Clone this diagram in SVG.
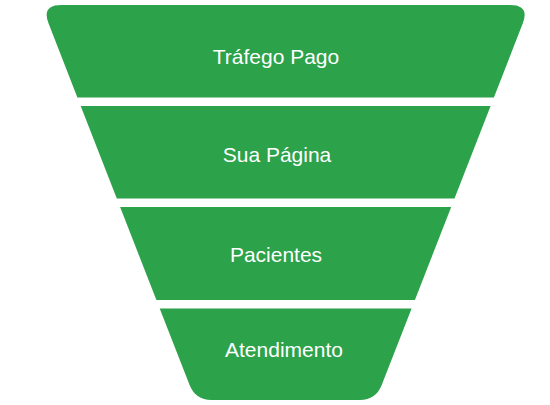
<svg xmlns="http://www.w3.org/2000/svg" width="550" height="405" viewBox="0 0 550 405">
<style>
.band{fill:#2ca24a;}
.lbl{font-family:"Liberation Sans",Arial,sans-serif;font-size:21px;fill:#ffffff;text-anchor:middle;}
</style>
<rect width="550" height="405" fill="#ffffff"/>
<g id="stage1">
<path class="band" d="M61.3,5 L510,5 Q530,5 522.7,23.6 L493.9,97.5 L77.4,97.5 L48.6,23.6 Q41.3,5 61.3,5 Z"/>
<text class="lbl" x="276" y="64">Tráfego Pago</text>
</g>
<g id="stage2">
<path class="band" d="M80.7,106 L490.6,106 L454.5,198.5 L116.8,198.5 Z"/>
<text class="lbl" x="277" y="162">Sua Página</text>
</g>
<g id="stage3">
<path class="band" d="M120.1,207 L451.2,207 L414.9,300 L156.4,300 Z"/>
<text class="lbl" x="276" y="262">Pacientes</text>
</g>
<g id="stage4">
<path class="band" d="M159.7,308.5 L411.6,308.5 L381.7,385.1 Q375.9,400 359.9,400 L211.4,400 Q195.4,400 189.6,385.1 Z"/>
<text class="lbl" x="284" y="357">Atendimento</text>
</g>
<g id="connectors"></g>
</svg>
